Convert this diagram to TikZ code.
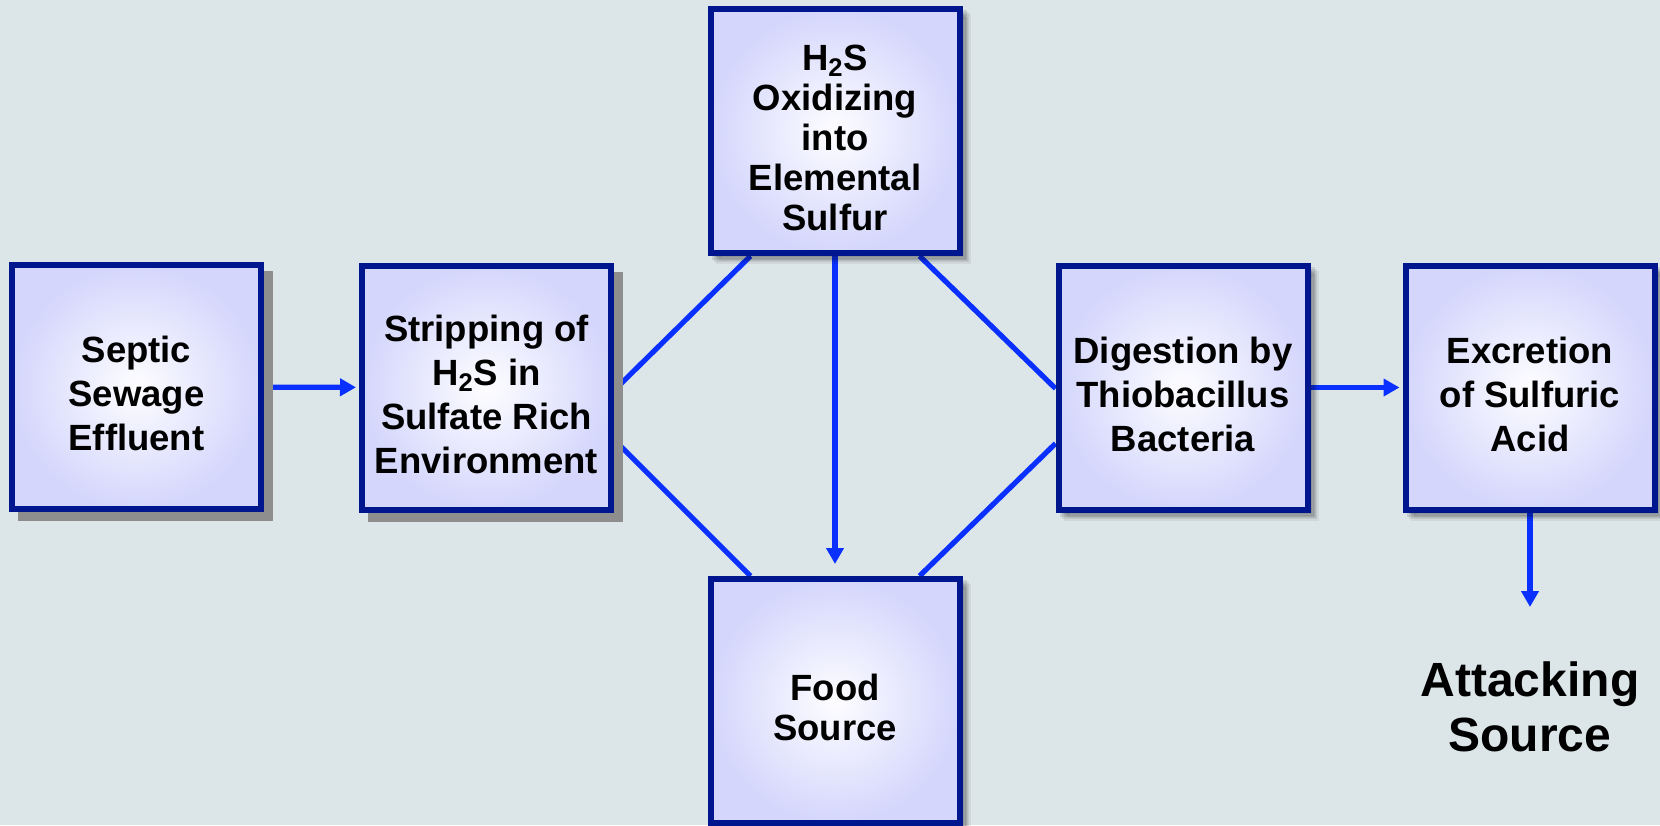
\documentclass[tikz,border=0pt]{standalone}
\usepackage{fontspec}
\setmainfont{Liberation Sans}
\usetikzlibrary{positioning}
\usetikzlibrary{calc}
\usetikzlibrary{arrows.meta}
\usetikzlibrary{shadows}
\definecolor{bgc}{RGB}{220,229,232}
\definecolor{navy}{RGB}{0,22,142}
\definecolor{lav}{RGB}{212,214,252}
\definecolor{wire}{RGB}{10,48,255}
\definecolor{shd}{RGB}{142,142,142}
\newcommand{\tstrut}{\rule{0pt}{20pt}}
\tikzset{blk/.style={draw=navy, line width=3pt, shading=radial, inner color=white!96!lav, outer color=lav, minimum width=124.5pt, minimum height=122pt, inner sep=0pt, align=center, font=\fontsize{18.25}{22}\selectfont\bfseries}}
\tikzset{hard/.style={drop shadow={shadow xshift=4.5pt, shadow yshift=-4.5pt, fill=shd, draw=shd, line width=3pt, opacity=1}}}
\tikzset{soft/.style={drop shadow={shadow xshift=4pt, shadow yshift=-4pt, fill=black, draw=black, line width=3pt, opacity=.06}, drop shadow={shadow xshift=3pt, shadow yshift=-3pt, fill=black, draw=black, line width=3pt, opacity=.08}, drop shadow={shadow xshift=2pt, shadow yshift=-2pt, fill=black, draw=black, line width=3pt, opacity=.1}}}
\tikzset{wr/.style={draw=wire, line width=2.6pt}}
\tikzset{>={Triangle[length=8pt,width=8.5pt]}}
\pgfdeclarelayer{bg}
\pgfdeclarelayer{wires}
\pgfsetlayers{bg,wires,main}

\begin{document}
\begin{tikzpicture}[x=0.5pt, y=-0.5pt]
        \useasboundingbox (0,0) rectangle (1660,825);
        \begin{pgfonlayer}{bg}
            \fill[bgc] (0,0) rectangle (1660,825);
        \end{pgfonlayer}

        \node[blk, hard] (septic) at (136.5,387) {\tstrut Septic\\Sewage\\Effluent};
        \node[blk, hard] (strip) at (486.5,387.5) {\tstrut Stripping of\\H\textsubscript{2}S in\\Sulfate Rich\\Environment};
        \node[blk, soft, font=\fontsize{18.25}{20}\selectfont\bfseries] (oxid) at (835,131) {\tstrut H\textsubscript{2}S\\Oxidizing\\into\\Elemental\\Sulfur};
        \node[blk, soft, font=\fontsize{18.25}{20}\selectfont\bfseries] (food) at (835,701) {\tstrut Food\\Source};
        \node[blk, soft] (digest) at (1183,387.5) {\tstrut Digestion by\\Thiobacillus\\Bacteria};
        \node[blk, soft] (excr) at (1530,387.5) {\tstrut Excretion\\of Sulfuric\\Acid};

        \node[align=center, font=\fontsize{24}{27.5}\selectfont\bfseries] (attack) at (1530,707) {Attacking\\Source};
        \coordinate (acidend) at (1530,607);

        \begin{pgfonlayer}{wires}
            \draw[wr] ($(strip.east)+(0,3)$) -- ($(oxid.south west)+(43,0)$);
            \draw[wr] ($(strip.east)+(0,52)$) -- ($(food.north west)+(43,0)$);
            \draw[wr] ($(oxid.south east)+(-43,0)$) -- ($(digest.west)+(0,1)$);
            \draw[wr] ($(digest.west)+(0,56)$) -- ($(food.north east)+(-43,0)$);

            \draw[wr, ->, shorten >=1.5pt] (septic) -- (strip);
            \draw[wr, ->, shorten >=1.5pt] (digest) -- (excr);
            \draw[wr, ->, shorten >=6pt] (oxid) -- (food);
            \draw[wr, ->] (excr) -- (acidend);
        \end{pgfonlayer}
    \end{tikzpicture}
\end{document}
